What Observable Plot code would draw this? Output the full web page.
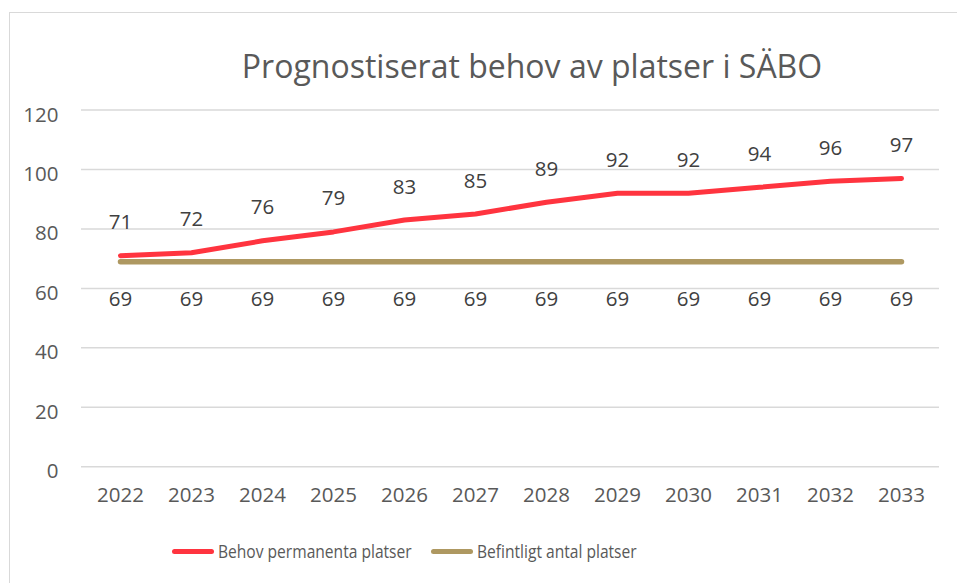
<!DOCTYPE html>
<html><head><meta charset="utf-8">
<script src="https://cdn.jsdelivr.net/npm/d3@7"></script>
<script src="https://cdn.jsdelivr.net/npm/@observablehq/plot@0.6"></script>
<style>
html,body{margin:0;padding:0;background:#fff;}
#wrap{position:relative;width:957px;height:583px;overflow:hidden;font-family:"Open Sans",sans-serif;}
#frame{position:absolute;left:9px;top:12px;width:1000px;height:700px;border:1.5px solid #d9d9d9;box-sizing:border-box;}
#title{position:absolute;left:0;top:49.6px;width:1064px;text-align:center;font-size:32px;line-height:32px;color:#595959;white-space:nowrap;}
#chart{position:absolute;left:0;top:0;}
#legend{position:absolute;top:538px;left:0;font-size:19px;color:#595959;white-space:nowrap;}
.item{position:absolute;top:0;display:flex;align-items:center;height:26px;}
.sw{display:inline-block;width:42px;height:5px;border-radius:3px;margin-right:4px;}
.lt{display:inline-block;transform:scaleX(0.82);transform-origin:0 50%;}
</style></head>
<body><div id="wrap"><div id="frame"></div><div id="title"></div><div id="chart"></div><div id="legend"></div></div>
<script>
const title = "Prognostiserat behov av platser i SÄBO";
const years = ["2022","2023","2024","2025","2026","2027","2028","2029","2030","2031","2032","2033"];
const behov = [71,72,76,79,83,85,89,92,92,94,96,97];
const befintligt = [69,69,69,69,69,69,69,69,69,69,69,69];
const seriesNames = ["Behov permanenta platser","Befintligt antal platser"];
const seriesColors = ["#ff343f","#ae9861"];
const yTicks = [0,20,40,60,80,100,120];

const rows1 = years.map((y,i)=>({year:y,value:behov[i]}));
const rows2 = years.map((y,i)=>({year:y,value:befintligt[i]}));

document.getElementById("title").textContent = title;

const plot = Plot.plot({
  width:957, height:583,
  marginLeft:81, marginRight:18, marginTop:109.5, marginBottom:116.7,
  style:{fontFamily:"'Open Sans',sans-serif", fontSize:"20.5px", color:"#595959", background:"transparent"},
  x:{type:"point", domain:years, padding:0.5, label:null},
  y:{domain:[0,120], ticks:yTicks, label:null},
  marks:[
    Plot.gridY(yTicks,{stroke:"#d9d9d9", strokeOpacity:1, strokeWidth:1.5}),
    Plot.axisY(yTicks,{tickSize:0, tickPadding:23, dy:5, fontSize:20.5, fill:"#595959", label:null}),
    Plot.axisX({tickSize:0, tickPadding:21, fontSize:20.5, fill:"#595959", label:null}),
    Plot.line(rows2,{x:"year", y:"value", stroke:seriesColors[1], strokeWidth:5.5, strokeLinecap:"round"}),
    Plot.line(rows1,{x:"year", y:"value", stroke:seriesColors[0], strokeWidth:5, strokeLinecap:"round", strokeLinejoin:"round"}),
    Plot.text(rows1,{x:"year", y:"value", text:d=>String(d.value), dy:-33, fontSize:20.5, fill:"#404040"}),
    Plot.text(rows2,{x:"year", y:"value", text:d=>String(d.value), dy:38, fontSize:20.5, fill:"#404040"})
  ]
});
document.getElementById("chart").appendChild(plot);

const leg = document.getElementById("legend");
const lefts = [172, 431];
seriesNames.forEach((n,i)=>{
  const it = document.createElement("div");
  it.className="item"; it.style.left = lefts[i]+"px";
  const sw = document.createElement("span"); sw.className="sw"; sw.style.background = seriesColors[i];
  const t = document.createElement("span"); t.className="lt"; t.textContent = n;
  it.appendChild(sw); it.appendChild(t); leg.appendChild(it);
});
</script></body></html>
